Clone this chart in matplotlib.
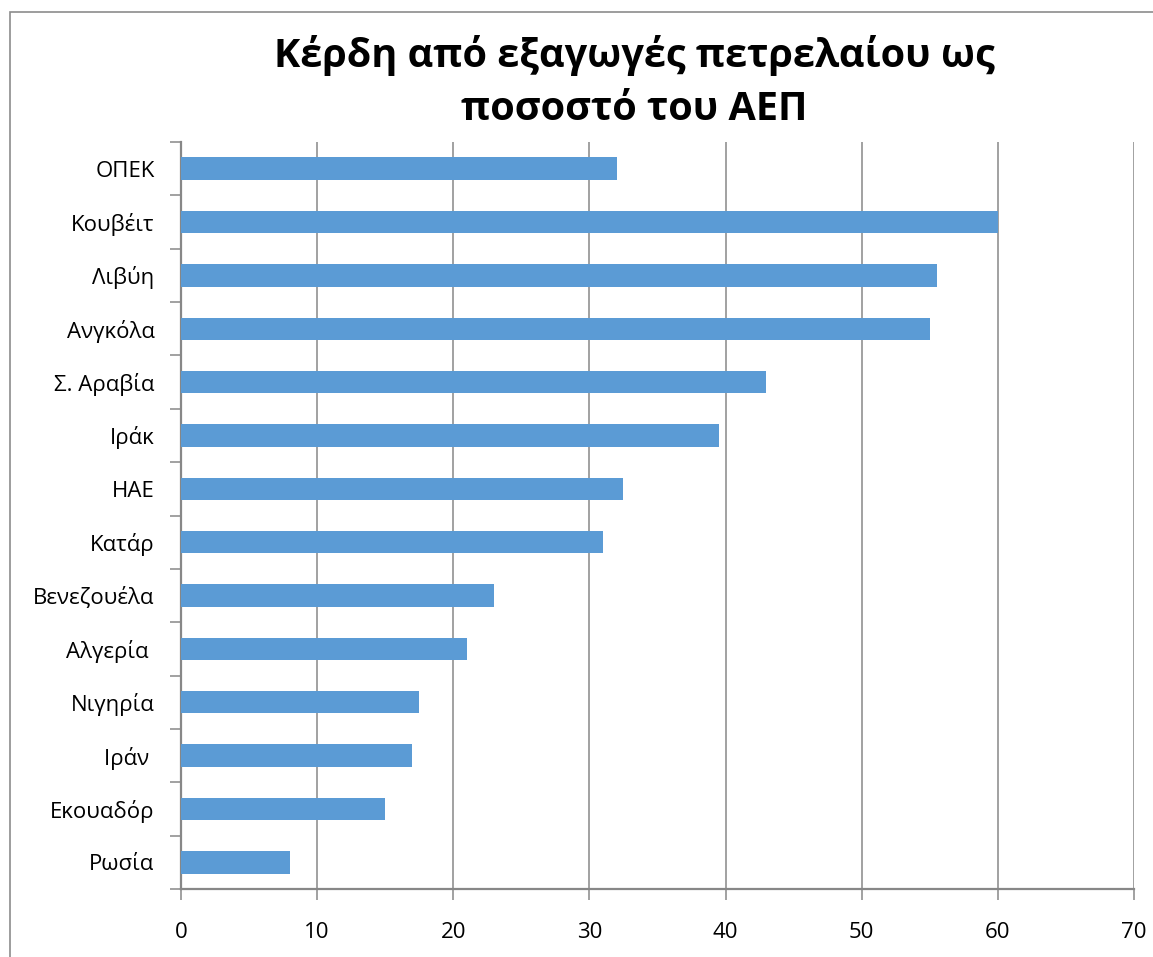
import matplotlib
matplotlib.use("Agg")
import matplotlib.pyplot as plt
from matplotlib.patches import Rectangle
import numpy as np

plt.rcParams['font.family'] = ['Open Sans', 'DejaVu Sans']

countries = ["ΟΠΕΚ", "Κουβέιτ", "Λιβύη", "Ανγκόλα", "Σ. Αραβία", "Ιράκ", "ΗΑΕ",
             "Κατάρ", "Βενεζουέλα", "Αλγερία ", "Νιγηρία", "Ιράν ", "Εκουαδόρ", "Ρωσία"]
values = [32, 60, 55.5, 55, 43, 39.5, 32.5, 31, 23, 21, 17.5, 17, 15, 8]
x_ticks = [0, 10, 20, 30, 40, 50, 60, 70]
title = "Κέρδη από εξαγωγές πετρελαίου ως\nποσοστό του ΑΕΠ"

bar_color = "#5B9BD5"
line_color = "#878787"

fig = plt.figure(figsize=(11.53, 9.57), dpi=100)
W, H = 1153, 957

# chart area border
fig.patches.append(Rectangle((10 / W, -0.05), 1.2, 1 - 12 / H + 0.05,
                             transform=fig.transFigure, fill=False,
                             edgecolor="#8c8c8c", linewidth=1.2))

ax = fig.add_axes([181 / W, 1 - 889 / H, (1134 - 181) / W, (889 - 142) / H])

y = np.arange(len(countries))
ax.barh(y, values, height=0.42, color=bar_color, zorder=3)
ax.set_ylim(len(countries) - 0.5, -0.5)
ax.set_xlim(0, 70)

ax.set_xticks(x_ticks)
ax.set_xticklabels([str(t) for t in x_ticks], fontsize=16)
ax.xaxis.grid(True, color=line_color, linewidth=1.1, zorder=0)
ax.tick_params(axis="x", direction="out", length=8, width=1.1, color=line_color, pad=16)

ax.set_yticks(y)
ax.set_yticklabels(countries, fontsize=16)
ax.set_yticks(np.arange(-0.5, len(countries)), minor=True)
ax.tick_params(axis="y", which="major", length=0, pad=19)
ax.tick_params(axis="y", which="minor", direction="out", length=8, width=1.1, color=line_color)

for s in ["top", "right"]:
    ax.spines[s].set_visible(False)
for s in ["left", "bottom"]:
    ax.spines[s].set_color(line_color)
    ax.spines[s].set_linewidth(1.6)

fig.text(634 / W, 1 - 82 / H, title, ha="center", va="center",
         fontsize=28.5, fontweight="bold", linespacing=1.5)

fig.savefig("out.png", dpi=100)
